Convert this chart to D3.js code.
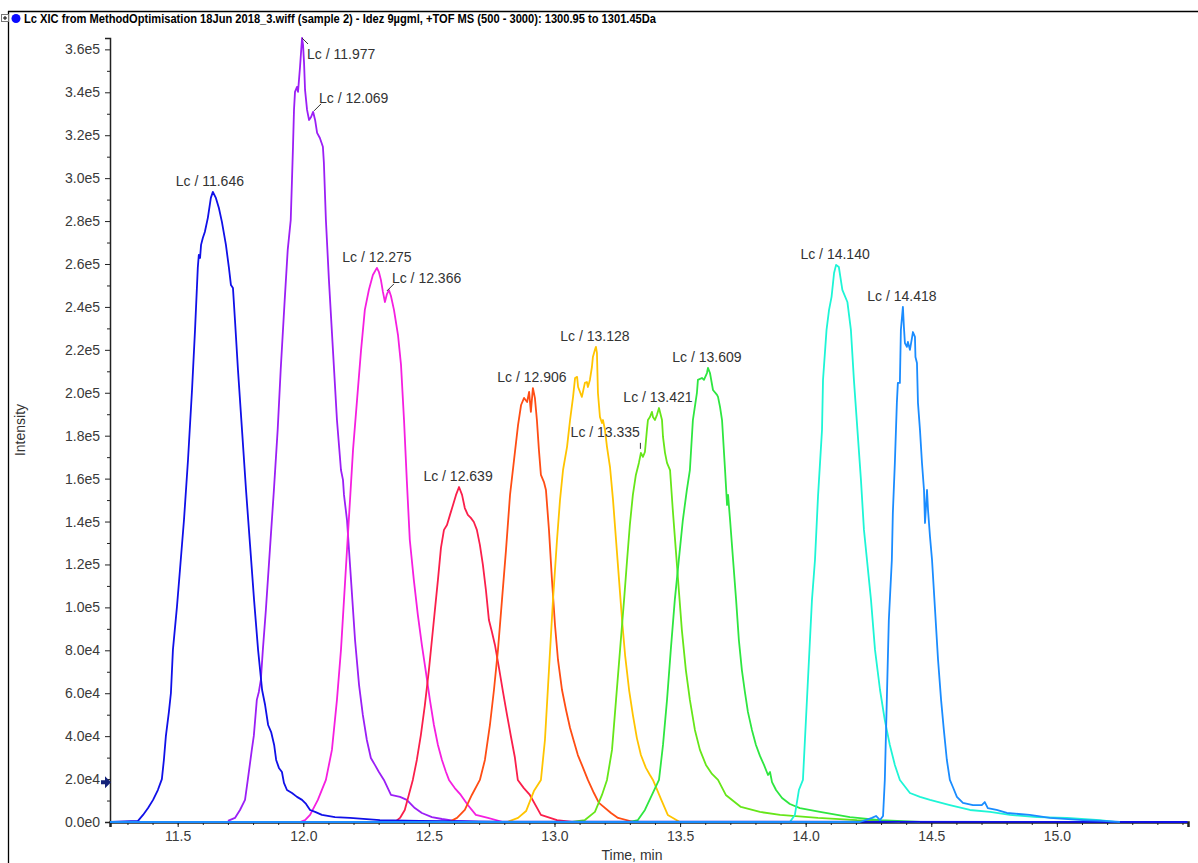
<!DOCTYPE html>
<html>
<head>
<meta charset="utf-8">
<script src="https://cdn.jsdelivr.net/npm/d3@7"></script>
<style>
  body { margin: 0; background: #fff; }
  svg { display: block; font-family: "Liberation Sans", Arial, sans-serif; }
  .axis path, .axis line { stroke: #222; }
  .axis text { fill: #3a3a3a; font-size: 14px; }
</style>
</head>
<body>
<svg id="chart" width="1198" height="863"></svg>
<script>
// time (min), intensity (x1000 counts)
const blueTrace = [[11.23,0],[11.342,0.5],[11.362,3.3],[11.382,6.5],[11.402,10.3],[11.421,14.9],[11.437,20.0],[11.445,28.9],[11.453,40.1],[11.465,51.3],[11.473,60.1],[11.481,80.2],[11.497,100.2],[11.509,117.4],[11.525,140.7],[11.541,168.7],[11.557,201.3],[11.569,229.3],[11.580,258.2],[11.584,264.2],[11.589,262.8],[11.593,268.9],[11.600,272.1],[11.608,274.9],[11.620,281.5],[11.632,290.8],[11.640,293.6],[11.652,290.8],[11.664,286.1],[11.676,279.6],[11.692,268.9],[11.704,258.2],[11.712,250.2],[11.720,248.8],[11.728,233.9],[11.740,210.6],[11.756,182.7],[11.772,154.7],[11.788,129.1],[11.804,103.5],[11.820,80.2],[11.836,61.5],[11.848,54.5],[11.860,45.2],[11.872,41.9],[11.884,35.9],[11.892,28.9],[11.903,25.2],[11.915,23.3],[11.923,18.2],[11.935,14.9],[11.955,13.5],[11.975,11.7],[11.995,10.3],[12.011,8.4],[12.027,5.6],[12.047,4.7],[12.074,3.3],[12.126,2.3],[12.186,1.9],[12.305,0.9],[12.464,0.5],[12.783,0.2],[15.52,0]];

const purpleTrace = [[11.700,0.5],[11.728,1.9],[11.748,5.6],[11.768,10.3],[11.779,19.6],[11.795,33.6],[11.803,40.1],[11.815,56.9],[11.823,60.6],[11.831,66.2],[11.839,80.2],[11.851,98.8],[11.867,126.8],[11.883,154.7],[11.898,182.7],[11.910,210.6],[11.926,243.3],[11.938,266.6],[11.950,280.5],[11.955,299.2],[11.959,314.6],[11.963,331.8],[11.967,340.2],[11.975,342.5],[11.979,340.2],[11.987,351.8],[11.995,365.3],[11.999,362.1],[12.003,353.7],[12.007,341.1],[12.015,331.8],[12.023,327.1],[12.031,328.5],[12.039,330.9],[12.047,327.1],[12.055,321.1],[12.066,318.7],[12.078,314.6],[12.082,307.1],[12.090,280.5],[12.102,252.6],[12.118,220.0],[12.134,187.3],[12.150,164.0],[12.158,159.4],[12.162,152.4],[12.174,140.7],[12.190,112.8],[12.206,84.8],[12.222,63.8],[12.237,49.9],[12.253,38.2],[12.269,29.8],[12.285,26.6],[12.301,23.3],[12.321,19.6],[12.349,12.6],[12.385,11.7],[12.412,10.3],[12.444,6.5],[12.472,4.2],[12.512,2.3],[12.552,1.4],[12.603,0.5],[12.700,0]];

const magentaTrace = [[11.987,0],[12.007,0.9],[12.027,3.3],[12.058,10.3],[12.090,19.6],[12.114,33.6],[12.134,56.9],[12.150,80.2],[12.162,103.5],[12.174,126.8],[12.186,150.1],[12.198,173.4],[12.214,196.7],[12.230,220.0],[12.245,238.6],[12.261,247.9],[12.277,254.9],[12.293,258.2],[12.301,256.3],[12.309,252.6],[12.317,247.0],[12.325,242.3],[12.333,246.0],[12.341,247.9],[12.349,245.1],[12.361,238.6],[12.377,226.9],[12.389,213.0],[12.401,187.3],[12.412,159.4],[12.424,131.4],[12.440,112.8],[12.456,96.5],[12.472,82.5],[12.488,69.9],[12.504,56.9],[12.520,45.2],[12.536,35.9],[12.552,28.9],[12.568,23.3],[12.580,19.6],[12.603,15.8],[12.627,12.6],[12.655,7.9],[12.687,3.3],[12.735,1.9],[12.795,0]];

const crimsonTrace = [[12.365,0],[12.385,1.9],[12.404,5.6],[12.420,12.6],[12.436,19.6],[12.452,28.9],[12.468,40.5],[12.484,54.5],[12.500,70.8],[12.512,84.8],[12.524,98.8],[12.536,112.8],[12.548,127.7],[12.560,136.1],[12.572,138.4],[12.584,143.1],[12.596,147.7],[12.608,152.4],[12.620,156.1],[12.632,152.4],[12.643,146.3],[12.655,143.1],[12.667,141.7],[12.679,139.8],[12.691,136.1],[12.703,129.1],[12.715,119.8],[12.727,108.1],[12.739,94.1],[12.751,88.5],[12.763,82.5],[12.779,71.8],[12.795,60.6],[12.811,49.9],[12.827,39.6],[12.842,30.3],[12.854,19.6],[12.878,15.8],[12.902,12.6],[12.946,3.3],[13.010,0.9],[13.070,0]];

const orangeTrace = [[12.580,0],[12.612,1.9],[12.643,5.6],[12.671,12.6],[12.703,19.6],[12.723,28.9],[12.743,45.2],[12.759,61.5],[12.775,80.2],[12.791,103.5],[12.807,126.8],[12.823,152.4],[12.839,168.7],[12.855,185.0],[12.867,194.3],[12.879,197.6],[12.891,195.7],[12.899,200.4],[12.906,191.1],[12.914,202.2],[12.922,197.6],[12.930,187.3],[12.938,173.4],[12.946,161.7],[12.958,158.4],[12.966,154.7],[12.978,136.1],[12.990,112.8],[13.002,91.8],[13.014,75.5],[13.030,61.5],[13.046,52.2],[13.062,43.8],[13.078,37.3],[13.093,31.2],[13.109,26.6],[13.133,19.6],[13.157,13.5],[13.177,8.9],[13.225,4.2],[13.253,1.9],[13.316,0]];

const goldTrace = [[12.811,0],[12.855,1.9],[12.887,5.1],[12.918,14.4],[12.946,19.6],[12.962,38.2],[12.978,70.8],[12.994,103.5],[13.010,131.4],[13.022,150.1],[13.034,164.0],[13.050,174.8],[13.062,187.3],[13.074,198.1],[13.082,206.9],[13.090,207.4],[13.094,202.7],[13.109,198.1],[13.121,204.6],[13.129,205.0],[13.133,202.7],[13.141,206.0],[13.149,212.0],[13.153,216.7],[13.161,220.0],[13.165,221.4],[13.169,218.6],[13.171,209.2],[13.173,199.9],[13.181,188.7],[13.189,185.9],[13.193,187.3],[13.201,182.7],[13.209,174.8],[13.221,165.4],[13.233,150.1],[13.245,131.4],[13.257,112.8],[13.269,94.1],[13.281,77.8],[13.297,61.5],[13.312,49.9],[13.328,39.1],[13.344,31.2],[13.364,25.2],[13.380,21.9],[13.392,19.6],[13.424,10.7],[13.451,3.3],[13.499,0]];

const limeTrace = [[13.070,0],[13.121,0.9],[13.161,4.7],[13.189,12.6],[13.209,19.6],[13.229,33.6],[13.245,56.9],[13.261,80.2],[13.277,103.5],[13.289,122.1],[13.300,138.4],[13.312,152.4],[13.324,161.7],[13.336,167.3],[13.344,172.0],[13.352,170.1],[13.360,172.4],[13.368,182.7],[13.372,187.3],[13.380,188.7],[13.388,191.1],[13.392,188.7],[13.400,187.3],[13.408,189.7],[13.416,192.9],[13.428,187.3],[13.432,179.4],[13.440,172.0],[13.448,167.3],[13.460,164.0],[13.471,145.4],[13.483,126.8],[13.495,108.1],[13.507,89.5],[13.523,70.8],[13.539,56.9],[13.559,42.9],[13.579,33.6],[13.603,26.6],[13.627,22.4],[13.651,19.6],[13.682,12.6],[13.742,7.0],[13.818,4.7],[13.898,3.3],[14.049,1.9],[14.204,0.9],[14.308,0.5],[14.375,0]];

const greenTrace = [[13.300,0],[13.332,0.9],[13.360,5.6],[13.388,12.6],[13.416,19.6],[13.432,35.9],[13.448,56.9],[13.463,80.2],[13.479,103.5],[13.495,122.1],[13.511,140.7],[13.527,154.7],[13.539,164.0],[13.551,187.3],[13.567,199.9],[13.571,206.0],[13.587,206.9],[13.595,206.0],[13.607,209.2],[13.611,211.6],[13.619,209.2],[13.631,201.3],[13.647,199.0],[13.651,198.1],[13.659,193.4],[13.667,187.3],[13.679,164.0],[13.687,147.7],[13.691,152.4],[13.699,140.7],[13.711,122.1],[13.723,103.5],[13.734,84.8],[13.746,70.8],[13.758,60.6],[13.770,51.3],[13.786,42.9],[13.802,35.9],[13.818,30.8],[13.834,26.6],[13.850,21.9],[13.858,23.3],[13.866,18.6],[13.882,14.9],[13.906,11.2],[13.937,8.4],[13.977,6.5],[14.057,4.7],[14.176,2.3],[14.296,0.9],[14.455,0]];

const cyanTrace = [[13.937,0],[13.957,3.3],[13.973,14.9],[13.989,19.6],[14.001,47.5],[14.013,75.5],[14.025,103.5],[14.037,122.1],[14.049,151.5],[14.065,182.7],[14.069,206.0],[14.083,229.3],[14.093,238.6],[14.103,244.7],[14.113,255.8],[14.121,259.6],[14.132,258.6],[14.146,247.9],[14.166,242.3],[14.180,229.3],[14.192,206.0],[14.206,182.7],[14.220,159.4],[14.232,136.1],[14.244,122.1],[14.260,103.5],[14.276,80.2],[14.296,61.5],[14.315,47.5],[14.335,35.9],[14.355,26.6],[14.375,19.6],[14.415,13.5],[14.455,11.7],[14.495,10.3],[14.574,7.9],[14.654,5.6],[14.734,4.7],[14.813,3.3],[14.921,2.3],[15.040,1.9],[15.171,0.9],[15.231,0]];

const azureTrace = [[11.23,0],[14.216,0],[14.264,1.9],[14.280,2.8],[14.296,0.9],[14.308,2.8],[14.315,19.6],[14.323,56.9],[14.331,94.1],[14.343,122.1],[14.347,144.0],[14.355,167.3],[14.363,195.3],[14.367,204.6],[14.375,204.6],[14.379,229.3],[14.387,240.0],[14.391,230.7],[14.395,223.2],[14.403,221.4],[14.407,223.7],[14.415,220.0],[14.423,225.5],[14.427,228.3],[14.435,226.0],[14.437,216.7],[14.443,213.9],[14.447,195.3],[14.455,182.7],[14.463,167.3],[14.471,154.7],[14.475,139.3],[14.483,154.7],[14.487,145.4],[14.495,132.8],[14.503,122.1],[14.515,98.8],[14.527,75.5],[14.539,56.9],[14.550,42.9],[14.562,28.9],[14.574,19.6],[14.586,16.3],[14.602,11.7],[14.626,8.9],[14.666,7.9],[14.701,7.9],[14.713,9.3],[14.725,6.5],[14.760,5.6],[14.801,4.2],[14.892,3.3],[14.972,1.9],[15.104,0.9],[15.183,0.5],[15.251,0]];

// peak annotations: text, anchor time, anchor intensity (x1000)
const peakLabels = ["Lc / 11.646", "Lc / 11.977", "Lc / 12.069", "Lc / 12.275", "Lc / 12.366", "Lc / 12.639", "Lc / 12.906", "Lc / 13.128", "Lc / 13.335", "Lc / 13.421", "Lc / 13.609", "Lc / 14.140", "Lc / 14.418"];
const peakAnchorTimes = [11.632, 11.995, 12.039, 12.297, 12.329, 12.620, 12.914, 13.165, 13.344, 13.416, 13.611, 14.121, 14.387];
const peakAnchorK = [293.6, 365.3, 330.9, 258.2, 247.0, 156.1, 202.2, 221.4, 172.0, 192.9, 211.6, 259.6, 240.0];

const yTicks = d3.range(0, 360001, 20000);
const yMinorTicks = d3.range(10000, 360001, 20000);
const xTicks = [11.5, 12.0, 12.5, 13.0, 13.5, 14.0, 14.5, 15.0];
const xMinorTicks = d3.range(113, 156).map(v => v / 10);
const thresholdK = 18.5;

const titleText = "Lc XIC from MethodOptimisation 18Jun 2018_3.wiff (sample 2) - Idez 9\u00b5gml, +TOF MS (500 - 3000): 1300.95 to 1301.45Da";

var svg = d3.select("#chart"),
    plot = { left: 110, right: 1188, top: 38, bottom: 822 };

var x = d3.scaleLinear().domain([11.2305, 15.522]).range([plot.left, plot.right]);
var y = d3.scaleLinear().domain([0, 365300]).range([plot.bottom, plot.top]);

// frame + title strip
svg.append("line").attr("x1", 8).attr("x2", 1198).attr("y1", 11.5).attr("y2", 11.5)
    .attr("stroke", "#000").attr("stroke-width", 1.3);
svg.append("line").attr("x1", 8.5).attr("x2", 8.5).attr("y1", 11).attr("y2", 863)
    .attr("stroke", "#000").attr("stroke-width", 1.3);
svg.append("rect").attr("x", 1.5).attr("y", 14.5).attr("width", 7).attr("height", 7)
    .attr("fill", "#fff").attr("stroke", "#777");
svg.append("path").attr("d", "M3,18H7M5,16V20").attr("stroke", "#000");
svg.append("circle").attr("cx", 16).attr("cy", 18.5).attr("r", 4.5).attr("fill", "#0a0aff");
svg.append("text").attr("x", 24).attr("y", 22.5)
    .attr("font-size", 12).attr("font-weight", "bold")
    .attr("textLength", 632).attr("lengthAdjust", "spacingAndGlyphs")
    .text(titleText);

// axes
var fmt = v => d3.format(".1e")(v).replace("e+", "e");

svg.append("g").attr("class", "axis")
    .attr("transform", "translate(" + plot.left + ",0)")
    .call(d3.axisLeft(y).tickValues(yTicks).tickSize(5).tickPadding(5).tickFormat(fmt))
    .call(g => g.select(".domain").attr("stroke-width", 1.5));
svg.append("g").attr("class", "axis")
    .attr("transform", "translate(" + plot.left + ",0)")
    .call(d3.axisLeft(y).tickValues(yMinorTicks).tickSize(3).tickFormat(""))
    .call(g => g.select(".domain").remove());

svg.append("g").attr("class", "axis")
    .attr("transform", "translate(0," + plot.bottom + ")")
    .call(d3.axisBottom(x).tickValues(xTicks).tickSize(5).tickPadding(4).tickFormat(d3.format(".1f")))
    .call(g => g.select(".domain").attr("stroke-width", 2.5).attr("stroke", "#0c0c9a"));
svg.append("g").attr("class", "axis")
    .attr("transform", "translate(0," + plot.bottom + ")")
    .call(d3.axisBottom(x).tickValues(xMinorTicks).tickSize(3).tickFormat(""))
    .call(g => g.select(".domain").remove());

svg.append("text").attr("transform", "translate(25,430) rotate(-90)")
    .attr("text-anchor", "middle").attr("font-size", 14).attr("fill", "#333").text("Intensity");
svg.append("text").attr("x", 632).attr("y", 860)
    .attr("text-anchor", "middle").attr("font-size", 14).attr("fill", "#333").text("Time, min");

// threshold arrow on the y axis
var ay = y(thresholdK * 1000);
svg.append("path")
    .attr("d", "M101," + (ay - 2) + "h4v-4l6,6l-6,6v-4h-4z")
    .attr("fill", "#14237a");

// traces
svg.append("clipPath").attr("id", "clip").append("rect")
    .attr("x", plot.left).attr("y", plot.top - 2)
    .attr("width", plot.right - plot.left + 1).attr("height", plot.bottom - plot.top + 3);

var traces = [
    { data: purpleTrace, color: "#9b1ff5" },
    { data: magentaTrace, color: "#f51fe0" },
    { data: crimsonTrace, color: "#fa1f4b" },
    { data: orangeTrace, color: "#ff4d14" },
    { data: goldTrace, color: "#ffc400" },
    { data: limeTrace, color: "#66e619" },
    { data: greenTrace, color: "#2ee640" },
    { data: cyanTrace, color: "#1ef5d6" },
    { data: blueTrace, color: "#1010e8" },
    { data: azureTrace, color: "#1a8cff" }
];

var line = d3.line()
    .x(d => x(d[0]))
    .y(d => y(d[1] * 1000));

svg.append("g").attr("clip-path", "url(#clip)")
    .selectAll("path")
    .data(traces)
    .enter().append("path")
    .attr("d", d => line(d.data))
    .attr("fill", "none")
    .attr("stroke", d => d.color)
    .attr("stroke-width", 1.8)
    .attr("stroke-linejoin", "round");

// peak labels
var labels = peakLabels.map((t, i) => ({ text: t, px: x(peakAnchorTimes[i]), py: y(peakAnchorK[i] * 1000) }));
var lab = svg.append("g").attr("font-size", 14).attr("fill", "#333");

labels.forEach(function (d) {
    if (d.text === "Lc / 11.977") {
        lab.append("line").attr("x1", d.px).attr("y1", d.py).attr("x2", d.px + 6).attr("y2", d.py + 6)
            .attr("stroke", "#333");
        lab.append("text").attr("x", d.px + 5).attr("y", d.py + 21).text(d.text);
    } else if (d.text === "Lc / 12.069" || d.text === "Lc / 12.366") {
        lab.append("line").attr("x1", d.px + 1).attr("y1", d.py - 1).attr("x2", d.px + 8).attr("y2", d.py - 8)
            .attr("stroke", "#333");
        lab.append("text").attr("x", d.px + 6).attr("y", d.py - 9).text(d.text);
    } else if (d.text === "Lc / 13.335") {
        lab.append("line").attr("x1", d.px - 0.5).attr("y1", d.py - 10).attr("x2", d.px - 0.5).attr("y2", d.py - 4)
            .attr("stroke", "#333");
        lab.append("text").attr("x", d.px - 1).attr("y", d.py - 16).attr("text-anchor", "end").text(d.text);
    } else {
        lab.append("text").attr("x", d.px - 1).attr("y", d.py - 6).attr("text-anchor", "middle").text(d.text);
    }
});
</script>
</body>
</html>
